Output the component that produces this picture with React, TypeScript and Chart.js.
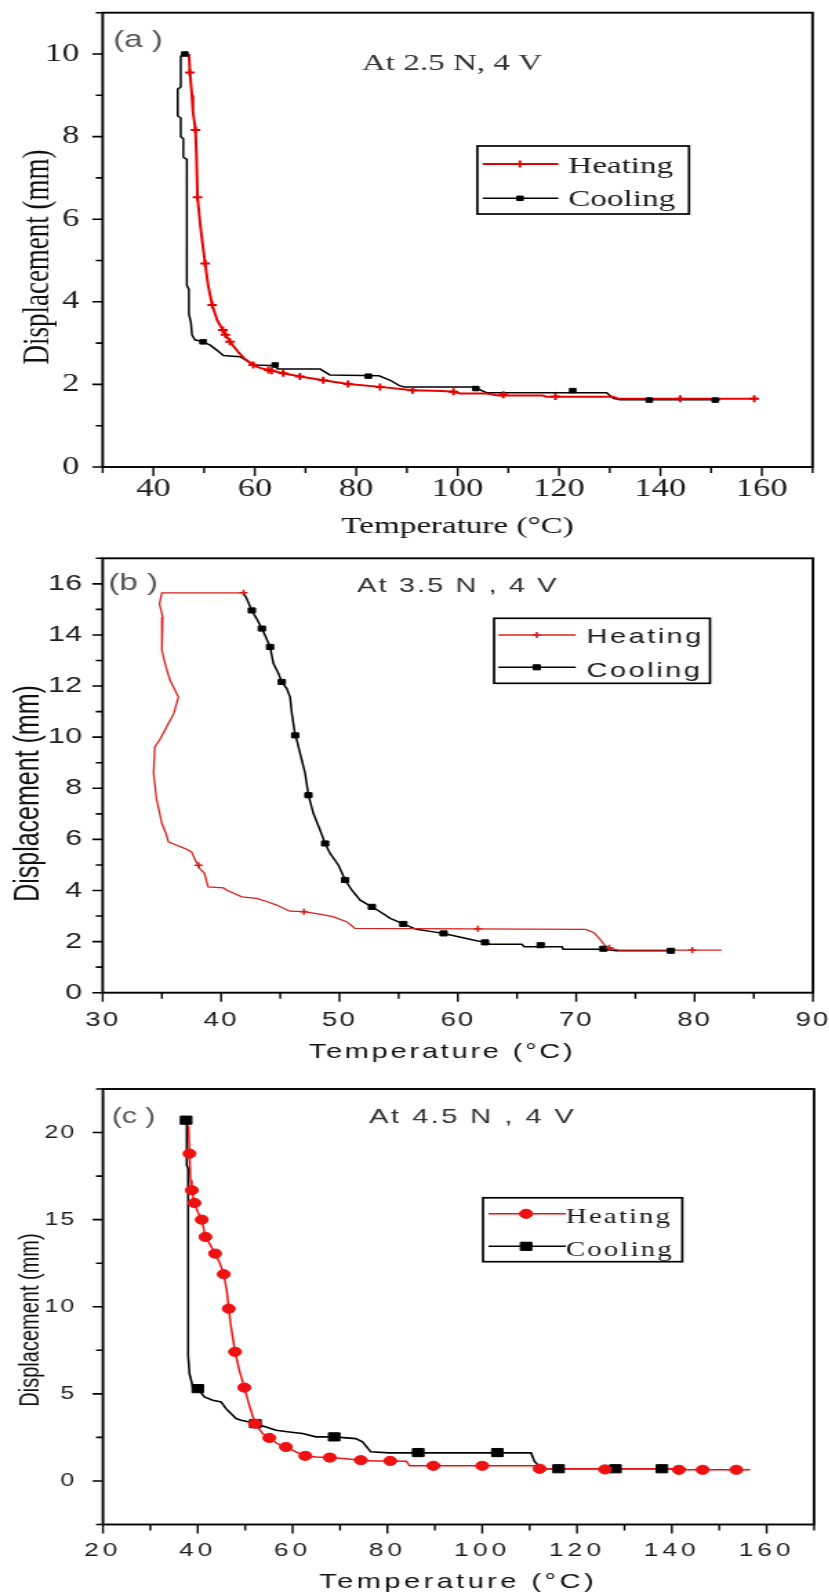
import React, { useEffect, useRef } from 'react';
import { Chart, registerables } from 'chart.js';

Chart.register(...registerables);

// ================= DATA =================
// Panel (a): At 2.5 N, 4 V
const heatA_T = [47.0, 47.2, 47.6, 47.8, 48.3, 48.5, 48.7, 49.3, 50.2, 50.8, 51.6, 52.6, 53.7, 55.1, 56.7, 58.0, 59.7, 61.0, 62.7, 65.6, 68.9, 73.5, 78.4, 84.7, 91.1, 97.0, 99.2, 100.5, 105.7, 108.0, 116.8, 117.5, 130.7, 131.5, 134.0, 159.0];
const heatA_D = [10.0, 9.55, 9.0, 8.6, 8.16, 7.5, 6.53, 5.8, 4.93, 4.4, 3.92, 3.55, 3.32, 3.03, 2.79, 2.62, 2.47, 2.4, 2.35, 2.27, 2.19, 2.1, 2.01, 1.94, 1.86, 1.84, 1.82, 1.78, 1.78, 1.73, 1.73, 1.7, 1.7, 1.66, 1.65, 1.65];
const heatA_markT = [47.2, 48.3, 48.7, 50.2, 51.6, 53.7, 54.2, 55.1, 59.7, 62.7, 63.3, 65.6, 68.9, 73.5, 78.4, 84.7, 91.1, 99.2, 109.0, 119.3, 143.9, 158.5];
const heatA_markD = [9.55, 8.16, 6.53, 4.93, 3.92, 3.32, 3.2, 3.03, 2.47, 2.35, 2.33, 2.27, 2.19, 2.1, 2.01, 1.94, 1.86, 1.82, 1.75, 1.71, 1.65, 1.65];
const coolA_T = [46.2, 45.4, 45.4, 44.8, 44.8, 45.4, 45.4, 45.9, 45.9, 46.6, 46.6, 47.0, 47.0, 47.4, 47.6, 48.2, 49.8, 51.2, 52.5, 53.8, 57.1, 58.1, 59.1, 60.4, 64.0, 64.5, 72.9, 74.8, 84.5, 86.7, 88.5, 89.5, 103.1, 105.7, 129.4, 130.7, 132.0, 151.8];
const coolA_D = [10.0, 9.95, 9.2, 9.15, 8.5, 8.45, 8.0, 7.95, 7.5, 7.45, 4.4, 4.3, 3.7, 3.5, 3.2, 3.08, 3.03, 2.95, 2.83, 2.7, 2.67, 2.6, 2.52, 2.47, 2.45, 2.37, 2.37, 2.23, 2.21, 2.1, 1.97, 1.94, 1.94, 1.8, 1.8, 1.66, 1.63, 1.63];
const coolA_markT = [46.2, 49.8, 64.0, 82.4, 103.6, 122.7, 137.8, 150.8];
const coolA_markD = [10.0, 3.03, 2.47, 2.2, 1.9, 1.85, 1.62, 1.62];

// Panel (b): At 3.5 N, 4 V
const heatB_T = [41.9, 35.0, 34.8, 35.07, 35.0, 35.35, 35.7, 36.4, 36.0, 35.4, 34.8, 34.4, 34.3, 34.56, 34.7, 35.0, 35.35, 35.55, 36.25, 36.96, 37.5, 37.9, 38.1, 38.2, 38.6, 38.9, 40.2, 40.5, 41.75, 43.0, 43.9, 44.7, 45.8, 47.0, 48.8, 49.5, 50.6, 51.3, 70.8, 71.5, 72.0, 72.5, 73.0, 73.6, 82.3];
const heatB_D = [15.65, 15.65, 15.22, 14.7, 13.4, 12.74, 12.22, 11.57, 10.92, 10.4, 9.88, 9.62, 8.58, 7.53, 7.27, 6.62, 6.23, 5.9, 5.77, 5.64, 5.51, 5.12, 4.99, 4.86, 4.67, 4.14, 4.1, 4.01, 3.75, 3.69, 3.56, 3.43, 3.19, 3.17, 3.04, 2.97, 2.78, 2.52, 2.48, 2.35, 2.1, 1.8, 1.72, 1.67, 1.67];
const heatB_markT = [41.9, 38.1, 47.0, 61.7, 72.8, 79.8];
const heatB_markD = [15.65, 4.99, 3.17, 2.5, 1.76, 1.67];
const coolB_T = [41.9, 42.17, 42.6, 43.0, 43.44, 43.72, 44.14, 44.42, 44.85, 45.13, 45.55, 45.83, 45.98, 46.26, 46.4, 46.68, 47.1, 47.38, 47.8, 48.37, 48.79, 49.21, 49.92, 50.48, 51.05, 51.75, 52.74, 53.44, 54.29, 55.4, 56.5, 57.8, 58.8, 61.3, 62.3, 62.7, 65.4, 65.6, 68.8, 68.9, 72.3, 73.4, 78.2];
const coolB_D = [15.65, 15.42, 14.96, 14.64, 14.25, 13.98, 13.53, 12.88, 12.49, 12.16, 11.9, 11.57, 10.92, 10.07, 9.88, 9.36, 8.58, 7.73, 7.01, 6.36, 5.84, 5.45, 4.99, 4.41, 4.01, 3.62, 3.36, 3.17, 2.91, 2.69, 2.48, 2.39, 2.32, 2.06, 1.97, 1.9, 1.9, 1.8, 1.8, 1.7, 1.7, 1.64, 1.64];
const coolB_markT = [42.6, 43.44, 44.14, 45.13, 46.26, 47.38, 48.79, 50.48, 52.74, 55.4, 58.8, 62.3, 67.0, 72.3, 78.0];
const coolB_markD = [14.96, 14.25, 13.53, 12.16, 10.07, 7.73, 5.84, 4.41, 3.36, 2.69, 2.32, 1.97, 1.86, 1.72, 1.64];

// Panel (c): At 4.5 N, 4 V
const heatC_T = [38.04, 38.25, 38.46, 38.74, 39.3, 40.0, 40.84, 41.61, 42.46, 43.65, 44.56, 45.47, 46.1, 46.53, 47.02, 47.86, 48.77, 49.82, 50.88, 52.07, 53.68, 55.09, 56.84, 58.6, 60.7, 62.67, 64.91, 67.86, 71.23, 74.39, 77.54, 80.6, 84.0, 84.7, 111.5, 112.1, 140.0, 141.5, 156.5];
const heatC_D = [20.4, 18.79, 17.26, 16.69, 15.96, 15.44, 15.0, 14.01, 13.63, 13.05, 12.57, 11.87, 10.95, 9.89, 8.84, 7.41, 6.35, 5.36, 4.34, 3.29, 2.72, 2.47, 2.14, 1.95, 1.67, 1.44, 1.38, 1.34, 1.28, 1.19, 1.15, 1.15, 1.13, 0.87, 0.87, 0.7, 0.7, 0.64, 0.64];
const heatC_markT = [38.25, 38.74, 39.3, 40.84, 41.61, 43.65, 45.47, 46.53, 47.86, 49.82, 52.07, 55.09, 58.6, 62.67, 67.86, 74.39, 80.6, 89.7, 100.0, 112.1, 125.9, 141.5, 146.5, 153.6];
const heatC_markD = [18.79, 16.69, 15.96, 15.0, 14.01, 13.05, 11.87, 9.89, 7.41, 5.36, 3.29, 2.47, 1.95, 1.44, 1.34, 1.19, 1.15, 0.87, 0.87, 0.7, 0.66, 0.64, 0.64, 0.64];
const coolC_T = [37.54, 37.68, 37.68, 37.96, 37.96, 38.25, 38.95, 40.0, 41.4, 43.16, 44.91, 45.96, 48.07, 49.12, 50.88, 52.14, 54.39, 56.49, 59.3, 62.1, 64.91, 68.77, 73.33, 74.74, 76.49, 80.35, 110.3, 111.0, 112.4, 143.0];
const coolC_D = [20.71, 20.5, 18.12, 17.9, 7.22, 6.16, 5.4, 5.3, 4.82, 4.63, 4.54, 4.15, 3.58, 3.48, 3.39, 3.29, 3.1, 2.91, 2.81, 2.72, 2.53, 2.53, 2.43, 2.24, 1.67, 1.61, 1.61, 1.13, 0.7, 0.7];
const coolC_markT = [37.54, 40.0, 52.14, 68.77, 86.5, 103.2, 116.1, 128.1, 137.9];
const coolC_markD = [20.71, 5.3, 3.29, 2.53, 1.63, 1.63, 0.7, 0.7, 0.7];

// Axis ranges / tick steps [minor, major]
const xRangeA = [30, 170]; const xStepsA = [10, 20];
const yRangeA = [0, 11]; const yStepsA = [1, 2];
const xRangeB = [30, 90]; const xStepsB = [5, 10];
const yRangeB = [0, 17]; const yStepsB = [1, 2];
const xRangeC = [20, 170]; const xStepsC = [10, 20];
const yRangeC = [-2.5, 22.5]; const yStepsC = [2.5, 5];

const seriesLabels = ['Heating', 'Cooling'];
const xTitle = 'Temperature (°C)';
const yTitle = 'Displacement (mm)';

// ================= LAYOUT / STYLE =================
const SX = 1.38; // horizontal stretch of the original figure
const VW = 601;
const SERIF = "'Liberation Serif', 'Times New Roman', serif";
const SANS = "'Liberation Sans', Arial, sans-serif";

type Shape = 'cross' | 'rect' | 'circle';
interface SStyle { color: string; lw: number; shape: Shape; r: number; bw: number; }
interface TextItem { text: string; x: number; y: number; font: string; ls?: number; align?: CanvasTextAlign; baseline?: CanvasTextBaseline; rotate?: number; color?: string; }
interface LegendSpec { box: number[]; lineX: number[]; markX: number; rowY: number[]; textX: number; textY: number[]; font: string; ls: number; }
interface PanelSpec {
  top: number; height: number;
  area: { left: number; right: number; top: number; bottom: number };
  xr: number[]; xs: number[]; yr: number[]; ys: number[];
  xFont: { family: string; size: number }; yFont: { family: string; size: number };
  xPad: number; yPad: number; xLs: number; yLs: number;
  heat: number[][]; cool: number[][];
  heatS: SStyle; coolS: SStyle;
  texts: TextItem[]; legend: LegendSpec;
}

const PANELS: PanelSpec[] = [
  {
    top: 0, height: 545,
    area: { left: 74.4, right: 588.8, top: 12.7, bottom: 467 },
    xr: xRangeA, xs: xStepsA, yr: yRangeA, ys: yStepsA,
    xFont: { family: SERIF, size: 25 }, yFont: { family: SERIF, size: 25 },
    xPad: 10.1, yPad: 16.9, xLs: 0, yLs: 0,
    heat: [heatA_T, heatA_D, heatA_markT, heatA_markD],
    cool: [coolA_T, coolA_D, coolA_markT, coolA_markD],
    heatS: { color: '#e60000', lw: 2, shape: 'cross', r: 3.5, bw: 2 },
    coolS: { color: '#000000', lw: 1.5, shape: 'rect', r: 3.2, bw: 1 },
    texts: [
      { text: xTitle, x: 331.6, y: 533, font: `24px ${SERIF}` },
      { text: yTitle, x: 27.5, y: 257, font: `27px ${SERIF}`, rotate: -Math.PI / 2, baseline: 'middle' },
      { text: '(a )', x: 82, y: 40, font: `24px ${SANS}`, align: 'left', baseline: 'middle', color: '#555' },
      { text: 'At 2.5 N, 4 V', x: 327.5, y: 70, font: `24px ${SERIF}`, color: '#333' },
    ],
    legend: { box: [345.9, 146, 499.3, 214], lineX: [349.8, 404.6], markX: 376.8, rowY: [164, 198.3], textX: 411.8, textY: [173, 206], font: `24px ${SERIF}`, ls: 0 },
  },
  {
    top: 545, height: 530,
    area: { left: 74.4, right: 589.1, top: 13.3, bottom: 447.7 },
    xr: xRangeB, xs: xStepsB, yr: yRangeB, ys: yStepsB,
    xFont: { family: SANS, size: 20 }, yFont: { family: SANS, size: 22 },
    xPad: 17.4, yPad: 14.3, xLs: 1.5, yLs: 0.5,
    heat: [heatB_T, heatB_D, heatB_markT, heatB_markD],
    cool: [coolB_T, coolB_D, coolB_markT, coolB_markD],
    heatS: { color: '#d81e1e', lw: 1.3, shape: 'cross', r: 3, bw: 1.6 },
    coolS: { color: '#000000', lw: 1.5, shape: 'rect', r: 3.6, bw: 1 },
    texts: [
      { text: xTitle, x: 320.3, y: 513, font: `21px ${SANS}`, ls: 2 },
      { text: yTitle, x: 21, y: 248.5, font: `25px ${SANS}`, rotate: -Math.PI / 2, baseline: 'middle' },
      { text: '(b )', x: 78.5, y: 38, font: `24px ${SANS}`, align: 'left', baseline: 'middle', color: '#555' },
      { text: 'At 3.5 N , 4 V', x: 331.8, y: 46.7, font: `21px ${SANS}`, ls: 1.5, color: '#333' },
    ],
    legend: { box: [358, 73.3, 514.5, 138.3], lineX: [361.1, 417.2], markX: 388.9, rowY: [90, 122.3], textX: 425.1, textY: [98, 131.7], font: `21px ${SANS}`, ls: 1.8 },
  },
  {
    top: 1075, height: 521,
    area: { left: 74.6, right: 589.9, top: 14, bottom: 449.5 },
    xr: xRangeC, xs: xStepsC, yr: yRangeC, ys: yStepsC,
    xFont: { family: SANS, size: 19 }, yFont: { family: SANS, size: 18 },
    xPad: 16.4, yPad: 19.3, xLs: 3, yLs: 1.5,
    heat: [heatC_T, heatC_D, heatC_markT, heatC_markD],
    cool: [coolC_T, coolC_D, coolC_markT, coolC_markD],
    heatS: { color: '#ee1111', lw: 1.5, shape: 'circle', r: 4.6, bw: 1 },
    coolS: { color: '#000000', lw: 1.6, shape: 'rect', r: 5.8, bw: 1 },
    texts: [
      { text: xTitle, x: 332, y: 513, font: `21px ${SANS}`, ls: 2.5 },
      { text: yTitle, x: 22, y: 245, font: `20px ${SANS}`, rotate: -Math.PI / 2, baseline: 'middle' },
      { text: '(c )', x: 80.9, y: 42, font: `22px ${SANS}`, align: 'left', baseline: 'middle', color: '#555' },
      { text: 'At 4.5 N , 4 V', x: 342.6, y: 48, font: `21px ${SANS}`, ls: 1.8, color: '#333' },
    ],
    legend: { box: [350, 122.8, 494.4, 186.7], lineX: [354, 410.1], markX: 381.2, rowY: [138.8, 171.3], textX: 410.1, textY: [148.4, 180.6], font: `21px ${SERIF}`, ls: 1.5 },
  },
];

// ================= HELPERS =================
function pts(T: number[], D: number[]) {
  return T.map((t, i) => ({ x: t, y: D[i] }));
}

function isMultiple(v: number, step: number) {
  return Math.abs(v / step - Math.round(v / step)) < 1e-6;
}

function drawText(ctx: any, t: TextItem) {
  ctx.save();
  ctx.font = t.font;
  ctx.fillStyle = t.color ?? '#111';
  ctx.letterSpacing = `${t.ls ?? 0}px`;
  ctx.textAlign = t.align ?? 'center';
  ctx.textBaseline = t.baseline ?? 'alphabetic';
  ctx.translate(t.x, t.y);
  if (t.rotate) ctx.rotate(t.rotate);
  ctx.fillText(t.text, 0, 0);
  ctx.restore();
}

function drawMarker(ctx: any, s: SStyle, x: number, y: number) {
  ctx.save();
  ctx.fillStyle = s.color;
  ctx.strokeStyle = s.color;
  ctx.lineWidth = s.bw;
  ctx.beginPath();
  if (s.shape === 'cross') {
    ctx.moveTo(x - s.r, y); ctx.lineTo(x + s.r, y);
    ctx.moveTo(x, y - s.r); ctx.lineTo(x, y + s.r);
    ctx.stroke();
  } else if (s.shape === 'rect') {
    const h = s.r * Math.SQRT1_2;
    ctx.rect(x - h, y - h, 2 * h, 2 * h);
    ctx.fill(); ctx.stroke();
  } else {
    ctx.arc(x, y, s.r, 0, Math.PI * 2);
    ctx.fill(); ctx.stroke();
  }
  ctx.restore();
}

function buildConfig(p: PanelSpec) {
  const decor = {
    id: 'decor',
    beforeDraw(chart: any) {
      const ctx = chart.ctx;
      const spacing: Record<string, number> = { x: p.xLs, y: p.yLs };
      Object.keys(spacing).forEach((id) => {
        const s = chart.scales[id];
        if (s && !s.__spaced) {
          const orig = s.drawLabels;
          s.drawLabels = function (ca: any) {
            ctx.save();
            ctx.letterSpacing = `${spacing[id]}px`;
            orig.call(this, ca);
            ctx.restore();
          };
          s.__spaced = true;
        }
      });
    },
    afterDraw(chart: any) {
      const ctx = chart.ctx;
      const a = chart.chartArea;
      const xs = chart.scales.x;
      const ys = chart.scales.y;
      ctx.save();
      ctx.letterSpacing = '0px';
      ctx.strokeStyle = '#000';
      // ticks (outside, major longer)
      ctx.lineWidth = 1.4;
      ctx.beginPath();
      const nx = Math.round((p.xr[1] - p.xr[0]) / p.xs[0]);
      for (let i = 0; i <= nx; i++) {
        const v = p.xr[0] + i * p.xs[0];
        const px = xs.getPixelForValue(v);
        const len = isMultiple(v, p.xs[1]) ? 9 : 6;
        ctx.moveTo(px, a.bottom); ctx.lineTo(px, a.bottom + len);
      }
      ctx.stroke();
      ctx.lineWidth = 1.6;
      ctx.beginPath();
      const ny = Math.round((p.yr[1] - p.yr[0]) / p.ys[0]);
      for (let i = 0; i <= ny; i++) {
        const v = p.yr[0] + i * p.ys[0];
        const py = ys.getPixelForValue(v);
        const len = isMultiple(v, p.ys[1]) ? 7.5 : 5;
        ctx.moveTo(a.left, py); ctx.lineTo(a.left - len, py);
      }
      ctx.stroke();
      // frame
      ctx.lineWidth = 1.9;
      ctx.strokeRect(a.left, a.top, a.right - a.left, a.bottom - a.top);
      // texts
      p.texts.forEach((t) => drawText(ctx, t));
      // legend
      const L = p.legend;
      ctx.lineWidth = 1.7;
      ctx.strokeStyle = '#000';
      ctx.strokeRect(L.box[0], L.box[1], L.box[2] - L.box[0], L.box[3] - L.box[1]);
      [p.heatS, p.coolS].forEach((s, i) => {
        ctx.save();
        ctx.strokeStyle = s.color;
        ctx.lineWidth = s.lw;
        ctx.beginPath();
        ctx.moveTo(L.lineX[0], L.rowY[i]);
        ctx.lineTo(L.lineX[1], L.rowY[i]);
        ctx.stroke();
        ctx.restore();
        drawMarker(ctx, s, L.markX, L.rowY[i]);
        drawText(ctx, { text: seriesLabels[i], x: L.textX, y: L.textY[i], font: L.font, ls: L.ls, align: 'left', color: '#1a1a1a' });
      });
      ctx.restore();
    },
  };

  const markerSet = (label: string, T: number[], D: number[], s: SStyle) => ({
    label, data: pts(T, D), showLine: false,
    pointStyle: s.shape, pointRadius: s.r, pointHoverRadius: s.r,
    pointBackgroundColor: s.color, pointBorderColor: s.color, pointBorderWidth: s.bw,
  });
  const lineSet = (label: string, T: number[], D: number[], s: SStyle) => ({
    label, data: pts(T, D), showLine: true, fill: false, tension: 0,
    borderColor: s.color, borderWidth: s.lw, pointRadius: 0, pointHoverRadius: 0, pointHitRadius: 0,
  });

  return {
    type: 'scatter',
    data: {
      datasets: [
        markerSet(seriesLabels[0], p.heat[2], p.heat[3], p.heatS),
        markerSet(seriesLabels[1], p.cool[2], p.cool[3], p.coolS),
        lineSet(seriesLabels[0], p.heat[0], p.heat[1], p.heatS),
        lineSet(seriesLabels[1], p.cool[0], p.cool[1], p.coolS),
      ],
    },
    options: {
      responsive: false,
      animation: false,
      events: [],
      layout: { autoPadding: false, padding: { left: 0, top: p.area.top, right: VW - p.area.right, bottom: 0 } },
      plugins: { legend: { display: false }, tooltip: { enabled: false } },
      scales: {
        x: {
          type: 'linear', position: 'bottom', min: p.xr[0], max: p.xr[1],
          grid: { display: false, drawTicks: false }, border: { display: false },
          ticks: {
            stepSize: p.xs[0], autoSkip: false, maxRotation: 0, minRotation: 0,
            padding: p.xPad, color: '#1c1c1c', font: { ...p.xFont, lineHeight: 1 },
            callback: (v: number) => (isMultiple(v, p.xs[1]) ? String(Math.round(v * 100) / 100) : ''),
          },
          afterFit: (s: any) => { s.height = p.height - p.area.bottom; s.paddingLeft = 0; s.paddingRight = 0; },
        },
        y: {
          type: 'linear', position: 'left', min: p.yr[0], max: p.yr[1],
          grid: { display: false, drawTicks: false }, border: { display: false },
          ticks: {
            stepSize: p.ys[0], autoSkip: false,
            padding: p.yPad, color: '#1c1c1c', font: { ...p.yFont, lineHeight: 1 },
            callback: (v: number) => (isMultiple(v, p.ys[1]) ? String(Math.round(v * 100) / 100) : ''),
          },
          afterFit: (s: any) => { s.width = p.area.left; s.paddingTop = 0; s.paddingBottom = 0; },
        },
      },
    },
    plugins: [decor],
  };
}

function Panel({ spec }: { spec: PanelSpec }) {
  const ref = useRef<HTMLCanvasElement | null>(null);
  useEffect(() => {
    if (!ref.current) return;
    const chart = new Chart(ref.current, buildConfig(spec) as any);
    return () => chart.destroy();
  }, [spec]);
  return (
    <div
      style={{
        position: 'absolute', left: 0, top: spec.top, width: VW, height: spec.height,
        transform: `scaleX(${SX})`, transformOrigin: '0 0',
      }}
    >
      <canvas ref={ref} width={VW} height={spec.height} />
    </div>
  );
}

export default function App() {
  return (
    <div style={{ position: 'absolute', left: 0, top: 0, width: 829, height: 1596, overflow: 'hidden', background: '#fff' }}>
      {PANELS.map((p, i) => (
        <Panel key={i} spec={p} />
      ))}
    </div>
  );
}
